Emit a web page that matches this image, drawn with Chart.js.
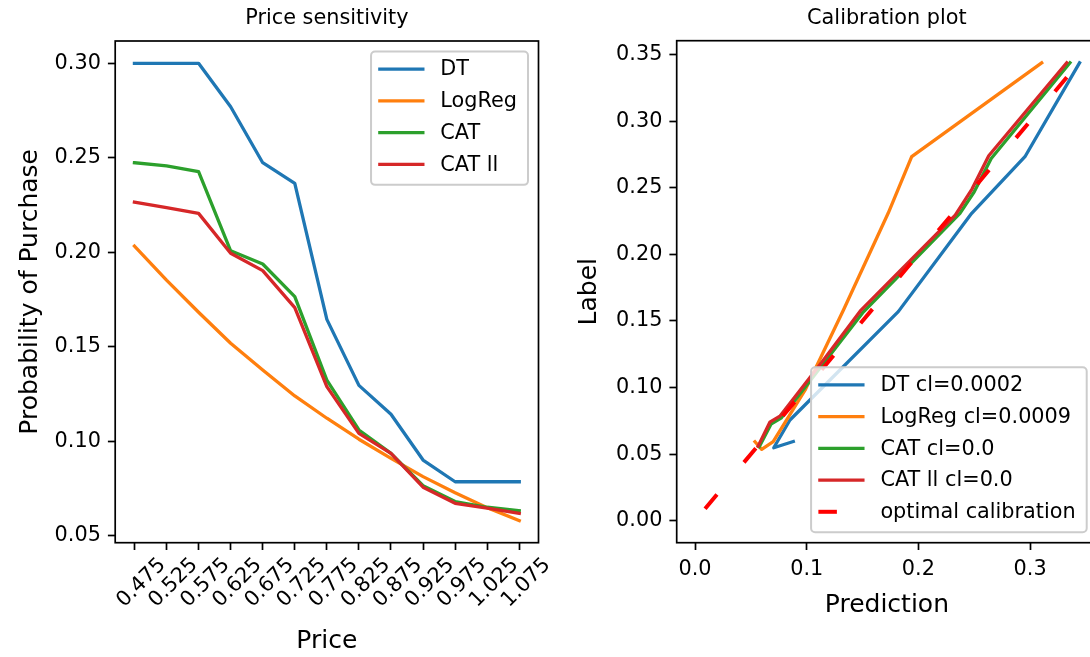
<!DOCTYPE html>
<html>
<head>
<meta charset="utf-8">
<script src="https://cdn.jsdelivr.net/npm/chart.js@4.4.1/dist/chart.umd.min.js"></script>
<style>
  html, body { margin: 0; padding: 0; background: #fff; overflow: hidden; }
  #fig { position: relative; width: 1090px; height: 657px; overflow: hidden; }
  canvas { position: absolute; top: 0; }
</style>
</head>
<body>
<div id="fig">
  <canvas id="price" width="548" height="657" style="left:0"></canvas>
  <canvas id="calib" width="600" height="657" style="left:548px"></canvas>
</div>
<script>
const FONT = 'DejaVu Sans';
const colours = ['#1f77b4', '#ff7f0e', '#2ca02c', '#d62728'];

// price sensitivity
const prices = [0.475, 0.525, 0.575, 0.625, 0.675, 0.725, 0.775, 0.825, 0.875, 0.925, 0.975, 1.025, 1.075];
const dtProb = [0.300, 0.300, 0.300, 0.277, 0.2474, 0.2365, 0.1645, 0.1296, 0.1143, 0.0901, 0.0786, 0.0786, 0.0786];
const logRegProb = [0.2033, 0.1853, 0.1683, 0.1519, 0.1377, 0.1240, 0.1122, 0.1011, 0.0910, 0.0813, 0.0728, 0.0649, 0.0580];
const catProb = [0.2474, 0.2457, 0.2427, 0.2008, 0.1938, 0.1765, 0.1324, 0.1060, 0.0936, 0.0765, 0.0681, 0.0651, 0.0633];
const catLlProb = [0.2265, 0.2236, 0.2206, 0.1995, 0.1903, 0.1707, 0.1289, 0.1042, 0.0936, 0.0757, 0.0672, 0.0646, 0.0619];
const probTicks = [0.05, 0.10, 0.15, 0.20, 0.25, 0.30];

// calibration curves: mean prediction / observed label
const dtPred = [0.0880, 0.0705, 0.0850, 0.1820, 0.2477, 0.2954, 0.3443];
const dtLabel = [0.0595, 0.0548, 0.0756, 0.1570, 0.2308, 0.2733, 0.3438];
const logRegPred = [0.0537, 0.0597, 0.0700, 0.0985, 0.1328, 0.1730, 0.1940, 0.3104];
const logRegLabel = [0.0593, 0.0536, 0.0593, 0.0980, 0.1580, 0.2310, 0.2733, 0.3438];
const catPred = [0.0575, 0.0680, 0.0770, 0.1140, 0.1500, 0.2372, 0.2500, 0.2652, 0.3357];
const catLabel = [0.0555, 0.0725, 0.0770, 0.1170, 0.1560, 0.2308, 0.2470, 0.2720, 0.3438];
const catLlPred = [0.0565, 0.0670, 0.0760, 0.1130, 0.1480, 0.2330, 0.2480, 0.2630, 0.3328];
const catLlLabel = [0.0560, 0.0740, 0.0785, 0.1185, 0.1575, 0.2295, 0.2490, 0.2740, 0.3438];
const optimalLine = [0.009, 0.343];
const predTicks = [0.0, 0.1, 0.2, 0.3];
const labelTicks = [0.00, 0.05, 0.10, 0.15, 0.20, 0.25, 0.30, 0.35];

const pairs = (xs, ys) => xs.map((x, i) => ({x: x, y: ys[i]}));

function lineSet(label, data, colour, order) {
    return {
        label: label,
        data: data,
        borderColor: colour,
        borderWidth: 3.3,
        borderCapStyle: 'square',
        borderJoinStyle: 'round',
        pointRadius: 0,
        tension: 0,
        fill: false,
        order: order
    };
}

// axes frame, title and a matplotlib-style legend box
const axesDecor = {
    id: 'axesDecor',
    afterDraw(chart, args, opts) {
        const {ctx, chartArea: a} = chart;
        ctx.save();
        ctx.strokeStyle = '#000';
        ctx.lineWidth = 1.7;
        ctx.strokeRect(a.left, a.top, a.right - a.left, a.bottom - a.top);

        ctx.fillStyle = '#000';
        ctx.font = `${opts.titleSize}px "${FONT}"`;
        ctx.textAlign = 'center';
        ctx.textBaseline = 'alphabetic';
        ctx.fillText(opts.title, (a.left + a.right) / 2, opts.titleY);

        const items = chart.data.datasets;
        ctx.font = `20.8px "${FONT}"`;
        const textW = Math.max(...items.map(d => ctx.measureText(d.label).width));
        const w = 69.3 + textW + 11;
        const h = 17.6 + (items.length - 1) * 31.75 + 20.5;
        const left = a.right - opts.inset - w;
        const top = opts.corner === 'upper' ? a.top + opts.inset : a.bottom - opts.inset - h;
        ctx.beginPath();
        ctx.roundRect(left, top, w, h, 4);
        ctx.fillStyle = 'rgba(255,255,255,0.8)';
        ctx.fill();
        ctx.strokeStyle = '#cccccc';
        ctx.lineWidth = 2;
        ctx.stroke();
        items.forEach((d, i) => {
            const y = top + 17.6 + i * 31.75;
            ctx.beginPath();
            ctx.strokeStyle = d.borderColor;
            ctx.lineWidth = d.borderWidth;
            if (d.borderDash) {
                ctx.setLineDash(d.borderDash);
                ctx.lineCap = 'butt';
                ctx.moveTo(left + 7.3, y);
                ctx.lineTo(left + 53.3, y);
            } else {
                ctx.setLineDash([]);
                ctx.lineCap = 'square';
                ctx.moveTo(left + 8.8, y);
                ctx.lineTo(left + 51.8, y);
            }
            ctx.stroke();
            ctx.setLineDash([]);
            ctx.fillStyle = '#000';
            ctx.textAlign = 'left';
            ctx.textBaseline = 'middle';
            ctx.fillText(d.label, left + 69.3, y + 1);
        });
        ctx.restore();
    }
};

function axis(min, max, values, fmt, extra) {
    return Object.assign({
        type: 'linear',
        min: min,
        max: max,
        afterBuildTicks: s => { s.ticks = values.map(v => ({value: v})); },
        grid: {drawOnChartArea: false, tickLength: 7.3, tickWidth: 1.7, tickColor: '#000'},
        border: {display: false},
        ticks: {
            font: {family: FONT, size: 20.8},
            color: '#000',
            padding: 7,
            autoSkip: false,
            callback: v => v.toFixed(fmt)
        }
    }, extra);
}

const axisTitle = (text, padding) => ({
    display: true, text: text, color: '#000',
    font: {family: FONT, size: 25}, padding: padding
});

const priceX = axis(0.445, 1.105, prices, 3, {
    afterFit: s => { s.height = 114.3; },
    title: axisTitle('Price', {top: 0, bottom: 1})
});
// rotated price labels
Object.assign(priceX.ticks, {minRotation: 45, maxRotation: 45, labelOffset: 28, padding: 3});

new Chart(document.getElementById('price'), {
    type: 'line',
    data: {
        datasets: [
            lineSet('DT', pairs(prices, dtProb), colours[0], 4),
            lineSet('LogReg', pairs(prices, logRegProb), colours[1], 3),
            lineSet('CAT', pairs(prices, catProb), colours[2], 2),
            lineSet('CAT ll', pairs(prices, catLlProb), colours[3], 1)
        ]
    },
    options: {
        responsive: false,
        animation: false,
        layout: {padding: {top: 41, right: 9.5, bottom: 0, left: 0}},
        plugins: {
            legend: {display: false},
            tooltip: {enabled: false},
            axesDecor: {title: 'Price sensitivity', titleSize: 20.8, titleY: 24, corner: 'upper', inset: 10.5}
        },
        scales: {
            x: priceX,
            y: axis(0.04635, 0.3118, probTicks, 2, {
                afterFit: s => { s.width = 115.2; },
                title: axisTitle('Probability of Purchase', {top: 15, bottom: 0})
            })
        }
    },
    plugins: [axesDecor]
});

new Chart(document.getElementById('calib'), {
    type: 'line',
    data: {
        datasets: [
            lineSet('DT cl=0.0002', pairs(dtPred, dtLabel), colours[0], 5),
            lineSet('LogReg cl=0.0009', pairs(logRegPred, logRegLabel), colours[1], 4),
            lineSet('CAT cl=0.0', pairs(catPred, catLabel), colours[2], 3),
            lineSet('CAT ll cl=0.0', pairs(catLlPred, catLlLabel), colours[3], 2),
            {
                label: 'optimal calibration',
                data: pairs(optimalLine, optimalLine),
                borderColor: '#ff0000',
                borderWidth: 4,
                borderDash: [18.5, 42],
                borderCapStyle: 'butt',
                pointRadius: 0,
                fill: false,
                order: 1
            }
        ]
    },
    options: {
        responsive: false,
        animation: false,
        layout: {padding: {top: 40.7, right: 50.9, bottom: 0, left: 0}},
        plugins: {
            legend: {display: false},
            tooltip: {enabled: false},
            axesDecor: {title: 'Calibration plot', titleSize: 20.8, titleY: 24, corner: 'lower', inset: 10.4}
        },
        scales: {
            x: axis(-0.0164, 0.36, predTicks, 1, {
                afterFit: s => { s.height = 114.3; },
                title: axisTitle('Prediction', {top: 0, bottom: 37})
            }),
            y: axis(-0.0165, 0.3604, labelTicks, 2, {
                afterFit: s => { s.width = 128.7; },
                title: axisTitle('Label', {top: 26, bottom: 0})
            })
        }
    },
    plugins: [axesDecor]
});
</script>
</body>
</html>
